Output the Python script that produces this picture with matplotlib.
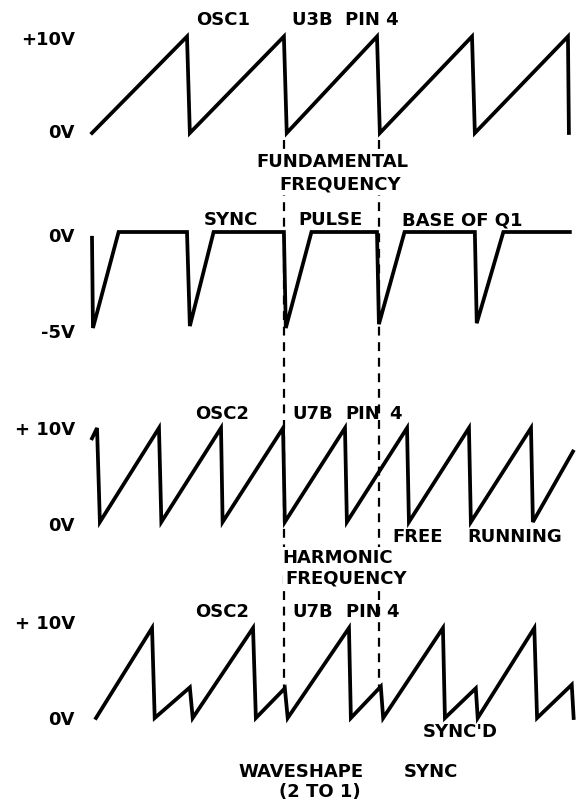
import matplotlib
matplotlib.use("Agg")
import matplotlib.pyplot as plt

W, H = 582, 805
X0, PERIOD = 92, 95.0   # pixel of t=0 and pixels per OSC1 period

# time in units of the OSC1 period, volts on y
osc1_t = [0.0, 1.0, 1.03, 2.02, 2.05, 3.0, 3.03, 4.0, 4.03, 5.01, 5.02]
osc1_v = [0, 10, 0, 10, 0, 10, 0, 10, 0, 10, 0]

pulse_t = [0.0, 0.01, 0.28, 1.0, 1.03, 1.28, 2.02, 2.04, 2.31, 3.0, 3.02, 3.29,
           4.03, 4.05, 4.33, 5.03]
pulse_v = [-0.3, -5.0, 0, 0, -4.9, 0, 0, -5.0, 0, 0, -4.8, 0, 0, -4.75, 0, 0]

free_t = [0.0, 0.053, 0.083, 0.705, 0.73, 1.358, 1.375, 2.011, 2.03, 2.663, 2.683,
          3.316, 3.336, 3.968, 3.988, 4.621, 4.641, 5.063]
free_v = [8.9, 10, 0, 10, 0, 10, 0, 10, 0, 10, 0, 10, 0, 10, 0, 10, 0, 7.5]

synced_t = [0.042, 0.632, 0.66, 1.03, 1.06, 1.695, 1.725, 2.03, 2.06, 2.705, 2.725,
            3.04, 3.065, 3.694, 3.715, 4.04, 4.06, 4.656, 4.685, 5.05, 5.07]
synced_v = [0, 10, 0, 3.4, 0, 10, 0, 3.3, 0, 10, 0, 3.5, 0, 10, 0, 3.3, 0, 10, 0, 3.7, 0]

dash_t = [2.02, 3.02]

fig = plt.figure(figsize=(W / 100, H / 100), dpi=100)
xlim = (-X0 / PERIOD, (W - X0) / PERIOD)


def panel(zero_px, ref_px, ref_v):
    # full-figure transparent axes, ylim chosen so 0V and ref_v land on the given pixel rows
    s = (zero_px - ref_px) / ref_v
    ax = fig.add_axes([0, 0, 1, 1])
    ax.set_xlim(*xlim)
    ax.set_ylim((zero_px - H) / s, zero_px / s)
    ax.axis("off")
    ax.patch.set_alpha(0)
    return ax


lw = 2.7
panel(133, 36.5, 10).plot(osc1_t, osc1_v, color="black", lw=lw, solid_joinstyle="miter")
panel(232, 328, -5).plot(pulse_t, pulse_v, color="black", lw=lw, solid_joinstyle="miter")
panel(522, 428, 10).plot(free_t, free_v, color="black", lw=lw, solid_joinstyle="miter")
panel(718, 628, 10).plot(synced_t, synced_v, color="black", lw=lw, solid_joinstyle="miter")

bg = fig.add_axes([0, 0, 1, 1])
bg.set_xlim(*xlim)
bg.set_ylim(H, 0)
bg.axis("off")
bg.patch.set_alpha(0)
bg.vlines(dash_t, 140, 690, colors="black", lw=1.6, linestyles=(0, (4, 3)))

font = dict(family="DejaVu Sans", weight="bold", size=13, color="black")


def label(x, y, s, ha="left", box=False):
    t = fig.text(x / W, 1 - y / H, s, ha=ha, va="center", **font)
    if box:
        t.set_bbox(dict(facecolor="white", edgecolor="none", pad=1.5))
    return t


# voltage labels
label(75, 40, "+10V", ha="right")
label(75, 133, "0V", ha="right")
label(75, 237, "0V", ha="right")
label(75, 333, "-5V", ha="right")
label(75, 430, "+ 10V", ha="right")
label(75, 526, "0V", ha="right")
label(75, 624, "+ 10V", ha="right")
label(75, 720, "0V", ha="right")

# captions
label(223, 20, "OSC1", ha="center")
label(345, 20, "U3B  PIN 4", ha="center")
label(332, 162, "FUNDAMENTAL", ha="center", box=True)
label(340, 184, "FREQUENCY", ha="center", box=True)
label(231, 220, "SYNC", ha="center")
label(330, 220, "PULSE", ha="center")
label(462, 220, "BASE OF Q1", ha="center")
label(222, 414, "OSC2", ha="center")
label(292, 414, "U7B")
label(345, 414, "PIN")
label(389, 414, "4")
label(392, 537, "FREE")
label(515, 537, "RUNNING", ha="center")
label(338, 558, "HARMONIC", ha="center", box=True)
label(346, 578, "FREQUENCY", ha="center", box=True)
label(222, 612, "OSC2", ha="center")
label(292, 612, "U7B")
label(346, 612, "PIN 4")
label(460, 732, "SYNC'D", ha="center")
label(301, 772, "WAVESHAPE", ha="center")
label(431, 772, "SYNC", ha="center")
label(320, 792, "(2 TO 1)", ha="center")

fig.savefig("out.png", dpi=100, facecolor="white")
